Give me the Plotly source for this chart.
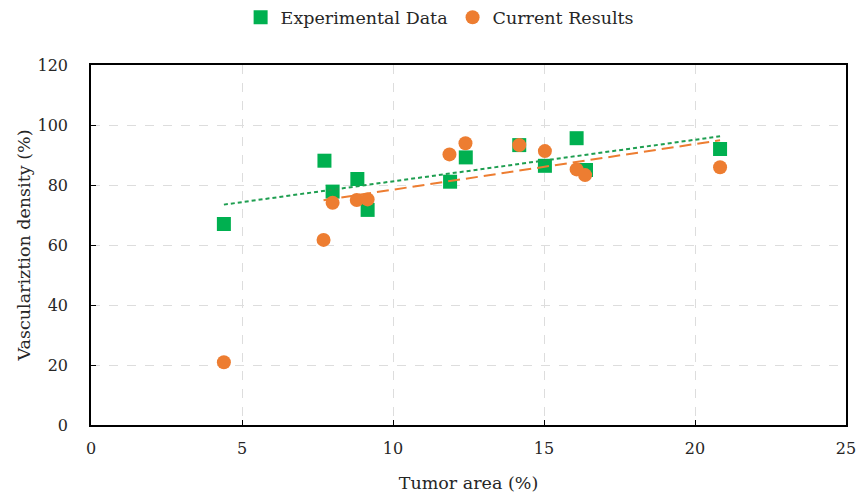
import numpy as np
import plotly.graph_objects as go

tumor_area = [4.4, 7.73, 8.0, 8.82, 9.16, 11.89, 12.41, 14.18, 15.03, 16.08, 16.39, 20.83]
experimental = [67.0, 88.1, 77.8, 82.0, 71.7, 81.1, 89.2, 93.3, 86.4, 95.6, 85.0, 92.0]
current_x = [4.4, 7.7, 8.0, 8.8, 9.16, 11.87, 12.4, 14.18, 15.03, 16.08, 16.36, 20.83]
current = [20.9, 61.7, 74.1, 75.0, 75.2, 90.2, 93.9, 93.3, 91.3, 85.2, 83.3, 85.9]

GREEN = "#00B050"
ORANGE = "#ED7D31"
FONT = "DejaVu Serif"
TXT = "#262626"

fig = go.Figure()

fig.add_trace(go.Scatter(x=tumor_area, y=experimental, mode="markers",
                         name="Experimental Data",
                         marker=dict(symbol="square", size=14, color=GREEN)))
fig.add_trace(go.Scatter(x=current_x, y=current, mode="markers",
                         name="Current Results",
                         marker=dict(symbol="circle", size=14, color=ORANGE)))

# linear trendlines (experimental: all points; current: excluding outlier)
ex = np.array(tumor_area)
ey = np.array(experimental)
p1 = np.polyfit(ex, ey, 1)
tx1 = np.array([ex.min(), ex.max()])
cx = np.array(current_x[1:])
cy = np.array(current[1:])
p2 = np.polyfit(cx, cy, 1)
tx2 = np.array([cx.min(), cx.max()])

fig.add_trace(go.Scatter(x=tx1, y=np.polyval(p1, tx1), mode="lines",
                         line=dict(color="#1E9E50", width=2, dash="4px,3px"),
                         showlegend=False, hoverinfo="skip"))
fig.add_trace(go.Scatter(x=tx2, y=np.polyval(p2, tx2), mode="lines",
                         line=dict(color=ORANGE, width=2, dash="12px,6px"),
                         showlegend=False, hoverinfo="skip"))

axis_common = dict(
    showline=True, linecolor="black", linewidth=1.5, mirror=True,
    ticks="inside", ticklen=5, tickcolor="black",
    showgrid=True, gridcolor="#DDDDDD", griddash="dash", gridwidth=1,
    zeroline=False,
    tickfont=dict(family=FONT, size=16, color=TXT),
)

fig.update_xaxes(range=[0, 25], dtick=5, ticklabelstandoff=8,
                 title=dict(text="Tumor area (%)", font=dict(family=FONT, size=17.5, color=TXT), standoff=20),
                 **axis_common)
fig.update_yaxes(range=[0, 120], dtick=20, ticklabelstandoff=18,
                 title=dict(text="Vasculariztion density (%)", font=dict(family=FONT, size=17.5, color=TXT), standoff=2),
                 **axis_common)

fig.update_layout(
    width=862, height=497,
    margin=dict(l=91, r=16, t=65, b=72, autoexpand=False),
    plot_bgcolor="white", paper_bgcolor="white",
    font=dict(family=FONT, size=16, color=TXT),
    legend=dict(orientation="h", xref="container", yref="container",
                x=0.51, xanchor="center", y=0.965, yanchor="middle",
                font=dict(family=FONT, size=17.5, color=TXT),
                itemwidth=30, tracegroupgap=0),
    showlegend=True,
)

fig.write_html("out.html")
